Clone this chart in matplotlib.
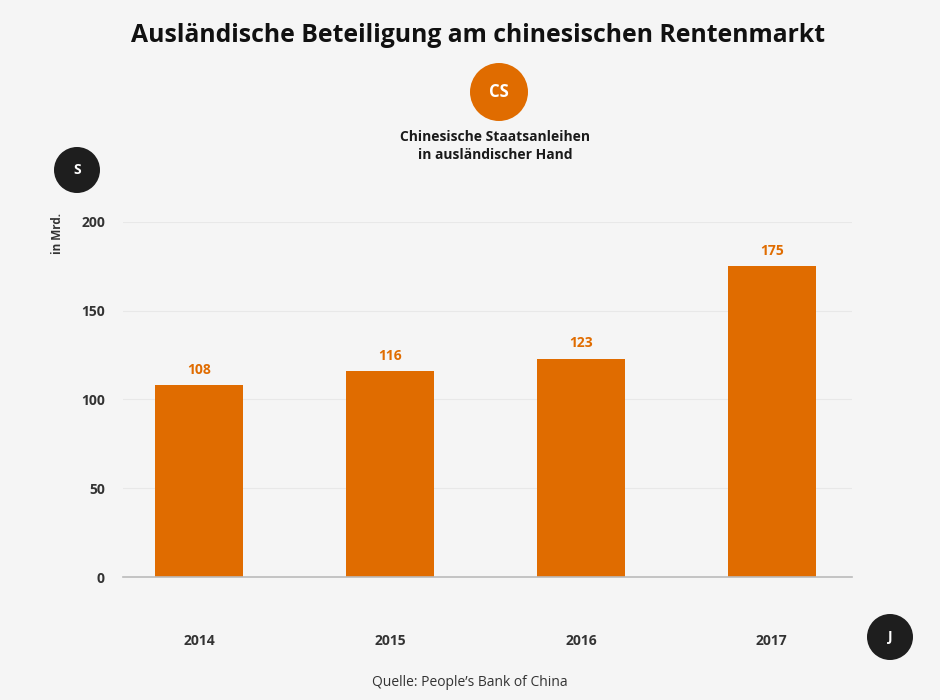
import matplotlib.pyplot as plt
from matplotlib.patches import Circle

years = ["2014", "2015", "2016", "2017"]
values = [108, 116, 123, 175]
yticks = [0, 50, 100, 150, 200]

BG = "#f5f5f5"
ORANGE = "#e06c00"
DARK = "#333333"

plt.rcParams["font.family"] = ["Open Sans", "DejaVu Sans"]

fig = plt.figure(figsize=(9.4, 7), dpi=100, facecolor=BG)
ax = fig.add_axes([0.1309, 0.1757, 0.7755, 0.5072])
ax.set_facecolor(BG)

x = range(len(years))
ax.bar(x, values, width=0.46, color=ORANGE, zorder=3)
for xi, v in zip(x, values):
    ax.annotate(str(v), (xi, v), xytext=(0, 6), textcoords="offset points",
                ha="center", va="bottom", color=ORANGE, fontsize=10,
                fontweight="bold")

ax.set_xlim(-0.4, 3.42)
ax.set_ylim(0, 200)
ax.set_yticks(yticks)
ax.set_yticklabels([str(t) for t in yticks], fontsize=10, fontweight="bold",
                   color=DARK)
ax.set_xticks(list(x))
ax.set_xticklabels(years, fontsize=10, fontweight="bold", color=DARK)
ax.tick_params(axis="both", length=0)
ax.tick_params(axis="y", pad=13)
ax.tick_params(axis="x", pad=41)
ax.grid(axis="y", color="#e8e8e8", linewidth=0.8, zorder=0)
for s in ["top", "right", "left"]:
    ax.spines[s].set_visible(False)
ax.spines["bottom"].set_color("#bbbbbb")
ax.spines["bottom"].set_linewidth(1.2)
ax.spines["bottom"].set_zorder(4)

ax.text(-66 / 729, (577 - 234) / 355, "in Mrd.", transform=ax.transAxes,
        rotation=90, ha="center", va="center", fontsize=8.5,
        fontweight="bold", color=DARK)

fig.text(478 / 940, 1 - 35 / 700,
         "Ausländische Beteiligung am chinesischen Rentenmarkt",
         ha="center", va="center", fontsize=17.8, fontweight="bold",
         color="#111111")


# badges
def badge(cx, cy, r, color, label, fs):
    fig.patches.append(Circle((cx, 700 - cy), r, transform=None,
                              facecolor=color, edgecolor="none"))
    fig.text(cx / 940, 1 - cy / 700, label, ha="center", va="center",
             color="white", fontsize=fs, fontweight="bold")


badge(499, 92, 29, ORANGE, "CS", 12)
badge(77, 170, 23, "#1e1e1e", "S", 10)
badge(890, 637, 23, "#1e1e1e", "J", 10)

fig.text(495 / 940, 1 - 146 / 700,
         "Chinesische Staatsanleihen\nin ausländischer Hand",
         ha="center", va="center", fontsize=10, fontweight="bold",
         color="#1a1a1a", linespacing=1.45)

fig.text(0.5, 1 - 683 / 700, "Quelle: People’s Bank of China", ha="center",
         va="center", fontsize=10, color=DARK)

fig.savefig("out.png", dpi=100, facecolor=BG)
